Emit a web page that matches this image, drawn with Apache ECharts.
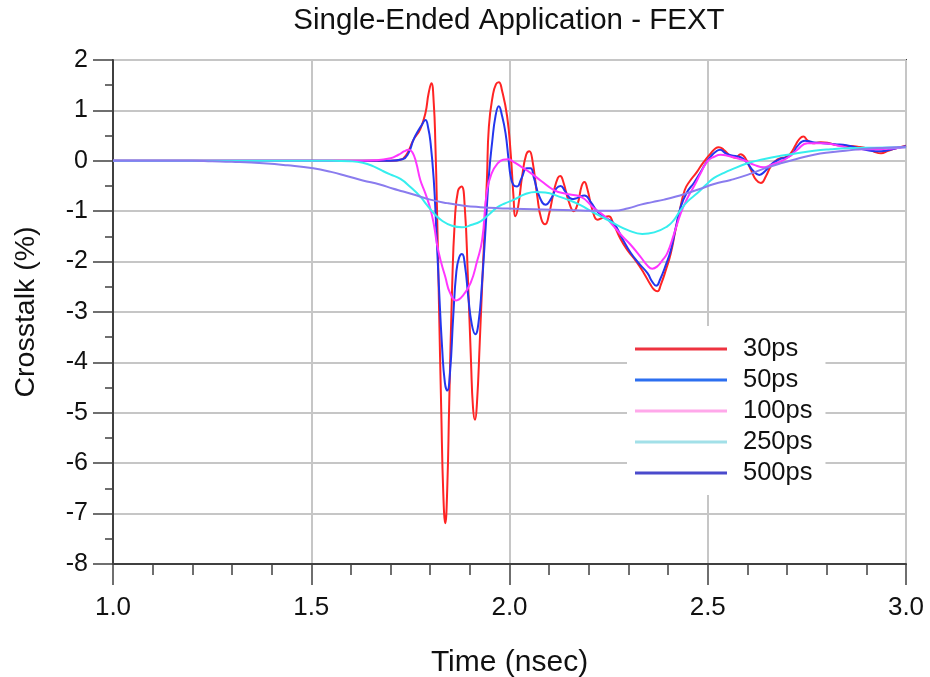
<!DOCTYPE html>
<html>
<head>
<meta charset="utf-8">
<title>Single-Ended Application - FEXT</title>
<script src="https://cdn.jsdelivr.net/npm/echarts@6/dist/echarts.min.js"></script>
<style>
  html, body { margin: 0; padding: 0; background: #ffffff; }
  #chart { width: 930px; height: 677px; }
</style>
</head>
<body>
<div id="chart"></div>
<script>
// Far-end crosstalk (%) versus time (nsec) for five edge rates.
const seriesNames = ['30ps', '50ps', '100ps', '250ps', '500ps'];

const xTicks = [1.0, 1.5, 2.0, 2.5, 3.0];
const yTicks = [2, 1, 0, -1, -2, -3, -4, -5, -6, -7, -8];

const fext30ps = [
  [1.0, 0], [1.5, 0], [1.7, 0], [1.725, 0.02], [1.74, 0.12], [1.758, 0.42],
  [1.775, 0.63], [1.788, 0.95], [1.796, 1.34], [1.803, 1.54], [1.809, 1.14],
  [1.813, 0.35], [1.817, -0.9], [1.822, -2.8], [1.828, -5.0], [1.833, -6.6],
  [1.838, -7.19], [1.843, -6.5], [1.848, -4.8], [1.855, -2.6], [1.862, -1.2],
  [1.870, -0.6], [1.879, -0.51], [1.887, -0.9], [1.895, -2.3], [1.903, -4.0],
  [1.908, -4.9], [1.913, -5.14], [1.918, -4.8], [1.925, -3.6], [1.933, -2.1],
  [1.943, -0.38], [1.948, 0.68], [1.958, 1.3], [1.966, 1.52], [1.973, 1.56],
  [1.981, 1.4], [1.994, 0.88], [2.003, 0.15], [2.010, -0.7], [2.015, -1.10],
  [2.022, -0.9], [2.032, -0.3], [2.042, 0.12], [2.050, 0.19], [2.058, 0.0],
  [2.070, -0.7], [2.080, -1.15], [2.090, -1.26], [2.100, -1.05], [2.112, -0.6],
  [2.122, -0.34], [2.128, -0.30], [2.135, -0.4], [2.150, -0.82], [2.162, -1.0],
  [2.172, -0.85], [2.182, -0.5], [2.189, -0.42], [2.196, -0.55], [2.210, -1.0],
  [2.222, -1.17], [2.235, -1.13], [2.250, -1.10], [2.262, -1.25], [2.280, -1.55],
  [2.297, -1.77], [2.320, -2.0], [2.339, -2.23], [2.355, -2.45], [2.365, -2.56],
  [2.373, -2.59], [2.382, -2.45], [2.395, -2.15], [2.407, -1.83], [2.418, -1.40],
  [2.428, -1.04], [2.442, -0.58], [2.455, -0.40], [2.470, -0.25], [2.482, -0.11],
  [2.495, 0.03], [2.508, 0.15], [2.520, 0.25], [2.528, 0.27], [2.540, 0.22],
  [2.558, 0.09], [2.570, 0.06], [2.583, 0.13], [2.595, 0.05], [2.609, -0.18],
  [2.622, -0.38], [2.634, -0.44], [2.647, -0.30], [2.659, -0.11], [2.676, 0.03],
  [2.690, 0.06], [2.701, 0.09], [2.712, 0.18], [2.722, 0.32], [2.732, 0.44],
  [2.741, 0.48], [2.752, 0.40], [2.765, 0.35], [2.785, 0.37], [2.802, 0.36],
  [2.820, 0.32], [2.845, 0.30], [2.878, 0.28], [2.900, 0.25], [2.920, 0.18],
  [2.937, 0.15], [2.955, 0.20], [2.975, 0.25], [3.0, 0.30]
];

const fext50ps = [
  [1.0, 0], [1.7, 0], [1.73, 0.03], [1.745, 0.15], [1.758, 0.42], [1.770, 0.60],
  [1.778, 0.70], [1.788, 0.81], [1.795, 0.65], [1.801, 0.35], [1.809, -0.38],
  [1.815, -1.3], [1.822, -2.5], [1.830, -3.7], [1.837, -4.4], [1.843, -4.56],
  [1.850, -4.2], [1.858, -3.1], [1.866, -2.2], [1.873, -1.92], [1.880, -1.85],
  [1.888, -2.1], [1.896, -2.7], [1.905, -3.25], [1.914, -3.44], [1.922, -3.2],
  [1.930, -2.5], [1.940, -1.3], [1.948, -0.3], [1.956, 0.35], [1.965, 0.9],
  [1.973, 1.08], [1.981, 0.9], [1.990, 0.55], [1.998, 0.0], [2.003, -0.31],
  [2.010, -0.48], [2.019, -0.51], [2.030, -0.35], [2.044, -0.15], [2.053, -0.15],
  [2.062, -0.35], [2.075, -0.70], [2.091, -0.87], [2.105, -0.75], [2.118, -0.55],
  [2.129, -0.50], [2.140, -0.60], [2.158, -0.76], [2.170, -0.74], [2.189, -0.69],
  [2.205, -0.82], [2.221, -1.0], [2.240, -1.12], [2.263, -1.24], [2.285, -1.55],
  [2.306, -1.83], [2.328, -2.05], [2.348, -2.23], [2.360, -2.40], [2.370, -2.48],
  [2.380, -2.35], [2.395, -2.05], [2.407, -1.77], [2.420, -1.30], [2.432, -0.91],
  [2.448, -0.62], [2.465, -0.44], [2.480, -0.25], [2.495, -0.05], [2.508, 0.09],
  [2.520, 0.18], [2.531, 0.22], [2.545, 0.15], [2.558, 0.11], [2.583, 0.07],
  [2.600, -0.05], [2.615, -0.20], [2.630, -0.28], [2.645, -0.20], [2.659, -0.08],
  [2.680, 0.03], [2.701, 0.07], [2.715, 0.15], [2.725, 0.28], [2.745, 0.40],
  [2.765, 0.37], [2.790, 0.35], [2.820, 0.33], [2.850, 0.31], [2.880, 0.25],
  [2.910, 0.20], [2.937, 0.19], [2.960, 0.22], [2.980, 0.26], [3.0, 0.29]
];

const fext100ps = [
  [1.0, 0], [1.6, 0], [1.66, 0.01], [1.70, 0.05], [1.72, 0.12], [1.735, 0.19],
  [1.745, 0.22], [1.755, 0.17], [1.765, -0.05], [1.775, -0.38], [1.788, -0.65],
  [1.801, -0.97], [1.810, -1.30], [1.817, -1.65], [1.827, -2.0], [1.838, -2.30],
  [1.850, -2.62], [1.866, -2.77], [1.882, -2.68], [1.902, -2.42], [1.918, -2.0],
  [1.931, -1.57], [1.943, -0.6], [1.955, -0.25], [1.970, -0.05], [1.984, 0.02],
  [1.996, 0.03], [2.010, -0.02], [2.030, -0.12], [2.053, -0.24], [2.080, -0.40],
  [2.112, -0.58], [2.145, -0.66], [2.179, -0.71], [2.213, -0.94], [2.240, -1.10],
  [2.263, -1.30], [2.285, -1.50], [2.306, -1.67], [2.330, -1.90], [2.348, -2.08],
  [2.360, -2.14], [2.372, -2.10], [2.385, -1.98], [2.398, -1.83], [2.415, -1.45],
  [2.432, -1.04], [2.448, -0.75], [2.465, -0.51], [2.482, -0.25], [2.499, -0.01],
  [2.516, 0.08], [2.533, 0.12], [2.550, 0.10], [2.570, 0.06], [2.595, 0.00],
  [2.617, -0.08], [2.642, -0.13], [2.660, -0.08], [2.684, -0.01], [2.705, 0.08],
  [2.726, 0.22], [2.752, 0.35], [2.790, 0.35], [2.830, 0.30], [2.880, 0.23],
  [2.930, 0.23], [2.960, 0.24], [3.0, 0.27]
];

const fext250ps = [
  [1.0, 0], [1.55, 0], [1.60, -0.01], [1.63, -0.04], [1.657, -0.11], [1.680, -0.20],
  [1.699, -0.27], [1.725, -0.36], [1.750, -0.52], [1.775, -0.71], [1.792, -0.88],
  [1.809, -1.04], [1.830, -1.19], [1.855, -1.29], [1.880, -1.32], [1.905, -1.27],
  [1.927, -1.20], [1.943, -1.10], [1.970, -0.92], [1.990, -0.84], [2.011, -0.77],
  [2.040, -0.66], [2.066, -0.62], [2.090, -0.63], [2.125, -0.71], [2.150, -0.78],
  [2.179, -0.88], [2.210, -1.02], [2.235, -1.12], [2.263, -1.24], [2.300, -1.38],
  [2.335, -1.45], [2.365, -1.42], [2.398, -1.30], [2.415, -1.17], [2.432, -0.97],
  [2.450, -0.80], [2.474, -0.64], [2.495, -0.48], [2.516, -0.34], [2.541, -0.24],
  [2.558, -0.18], [2.600, -0.05], [2.640, 0.03], [2.684, 0.10], [2.725, 0.15],
  [2.768, 0.20], [2.810, 0.23], [2.853, 0.25], [2.920, 0.26], [3.0, 0.27]
];

const fext500ps = [
  [1.0, 0], [1.2, 0], [1.25, -0.01], [1.30, -0.02], [1.379, -0.05], [1.44, -0.09],
  [1.505, -0.15], [1.55, -0.22], [1.589, -0.30], [1.630, -0.39], [1.673, -0.47],
  [1.705, -0.55], [1.732, -0.61], [1.758, -0.67], [1.800, -0.77], [1.843, -0.84],
  [1.885, -0.89], [1.927, -0.92], [1.970, -0.94], [2.011, -0.95], [2.060, -0.96],
  [2.110, -0.97], [2.160, -0.98], [2.210, -0.99], [2.263, -0.99], [2.300, -0.94],
  [2.331, -0.87], [2.360, -0.82], [2.390, -0.77], [2.420, -0.71], [2.449, -0.64],
  [2.480, -0.56], [2.516, -0.46], [2.558, -0.38], [2.600, -0.28], [2.640, -0.16],
  [2.684, -0.05], [2.726, 0.04], [2.768, 0.12], [2.810, 0.17], [2.847, 0.20],
  [2.900, 0.24], [2.950, 0.26], [3.0, 0.28]
];

const seriesData = [fext30ps, fext50ps, fext100ps, fext250ps, fext500ps];
const lineColors = ['#ff2424', '#2436ee', '#ff36ff', '#36eeee', '#8a7cee'];
const legendColors = ['#ee3340', '#2c6ff0', '#ffa8ea', '#a2e0e8', '#4a4acc'];

const FONT = '"Liberation Sans", Arial, sans-serif';
const INK = '#111111';
const GRID_GRAY = '#c6c6c6';
const AXIS_DARK = '#404040';

const chart = echarts.init(document.getElementById('chart'), null, { renderer: 'canvas' });

const option = {
  backgroundColor: '#ffffff',
  animation: false,
  textStyle: { fontFamily: FONT },
  title: {
    text: 'Single-Ended Application - FEXT',
    left: 509,
    top: 6,
    textAlign: 'center',
    padding: 0,
    textStyle: { fontFamily: FONT, fontSize: 29.5, fontWeight: 'normal', color: INK }
  },
  grid: {
    left: 113, right: 24, top: 60, bottom: 113,
    containLabel: false,
    outerBoundsMode: 'none',
    show: true,
    borderColor: AXIS_DARK,
    borderWidth: 2,
    backgroundColor: 'transparent'
  },
  legend: {
    orient: 'vertical',
    left: 627,
    top: 326,
    backgroundColor: '#ffffff',
    padding: [10, 13, 9, 8],
    icon: 'rect',
    itemWidth: 92,
    itemHeight: 3,
    itemGap: 5,
    textStyle: { fontFamily: FONT, fontSize: 25.5, color: INK, lineHeight: 25, padding: [0, 0, 0, 11] },
    data: seriesNames.map((n, i) => ({ name: n, itemStyle: { color: legendColors[i] } }))
  },
  xAxis: {
    type: 'value',
    min: 1.0,
    max: 3.0,
    interval: 0.5,
    name: 'Time (nsec)',
    nameLocation: 'middle',
    nameGap: 84,
    nameTextStyle: { fontFamily: FONT, fontSize: 30, color: INK },
    axisLine: { show: true, onZero: false, lineStyle: { color: AXIS_DARK, width: 2 } },
    axisTick: { show: true, inside: false, length: 21, lineStyle: { color: AXIS_DARK, width: 1.5 } },
    minorTick: { show: true, splitNumber: 5, length: 11, lineStyle: { color: AXIS_DARK, width: 1.5 } },
    axisLabel: {
      margin: 31,
      fontFamily: FONT, fontSize: 26, color: INK,
      formatter: v => xTicks.includes(v) ? v.toFixed(1) : ''
    },
    splitLine: { show: true, lineStyle: { color: GRID_GRAY, width: 2 } }
  },
  yAxis: {
    type: 'value',
    min: -8,
    max: 2,
    interval: 1,
    name: 'Crosstalk (%)',
    nameLocation: 'middle',
    nameGap: 72,
    nameTextStyle: { fontFamily: FONT, fontSize: 28.5, color: INK },
    axisLine: { show: true, onZero: false, lineStyle: { color: AXIS_DARK, width: 2 } },
    axisTick: { show: true, inside: false, length: 20, lineStyle: { color: AXIS_DARK, width: 1.5 } },
    minorTick: { show: true, splitNumber: 2, length: 8, lineStyle: { color: AXIS_DARK, width: 1.5 } },
    axisLabel: {
      margin: 25,
      fontFamily: FONT, fontSize: 25, color: INK,
      formatter: v => yTicks.includes(v) ? String(v) : ''
    },
    splitLine: { show: true, lineStyle: { color: GRID_GRAY, width: 2 } }
  },
  series: seriesNames.map((n, i) => ({
    name: n,
    type: 'line',
    data: seriesData[i],
    showSymbol: false,
    symbol: 'none',
    smooth: 0.5,
    clip: true,
    lineStyle: { color: lineColors[i], width: 2 },
    itemStyle: { color: lineColors[i] },
    z: 3 + i
  }))
};

chart.setOption(option);
</script>
</body>
</html>
